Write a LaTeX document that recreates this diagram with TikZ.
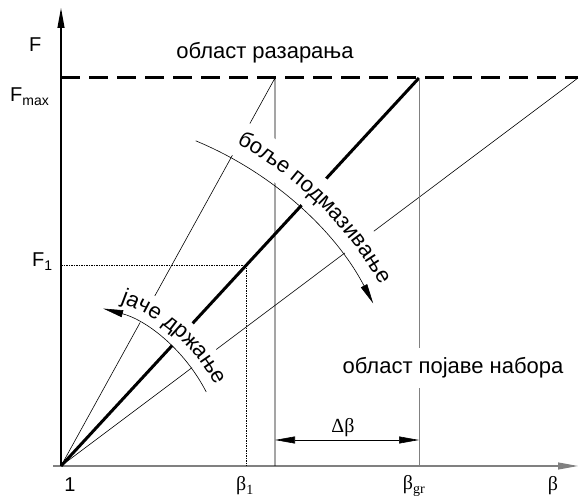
\documentclass[tikz,border=0pt]{standalone}
\usepackage{fontspec}
\setmainfont{Liberation Sans}
\newfontfamily\grfont{Liberation Serif}
\usetikzlibrary{arrows.meta, calc, decorations.text}
\definecolor{cAxis}{RGB}{128,128,128}
\newcommand\txtsize{\fontsize{22}{26}\selectfont}
\tikzset{
	axis/.style     ={-{Triangle[length=20pt, width=7pt]}, line width=1.1pt},
	ray/.style      ={line width=0.6pt},
	mainray/.style  ={line width=3pt},
	limit/.style    ={line width=3pt, dash pattern=on 19pt off 9pt},
	guide/.style    ={line width=0.6pt, dash pattern=on 1.5pt off 1pt},
	dimarrow/.style ={{Triangle[length=20pt, width=7pt]}-{Triangle[length=20pt, width=7pt]}, line width=0.6pt},
	turn/.style     ={-{Triangle[length=20pt, width=7pt]}, line width=0.6pt},
	mask/.style     ={white, line width=#1},
	labF/.style     ={font=\fontsize{20}{24}\selectfont, inner sep=0pt},
	lbl/.style      ={font=\txtsize, inner sep=1pt},
	grlbl/.style    ={font=\grfont\fontsize{20}{24}\selectfont, inner sep=1pt},
	bent/.style     ={decorate, decoration={text along path, text align=center, text={|\txtsize|#1}}},
}

\begin{document}
\begin{tikzpicture}[x=1pt, y=1pt]
	\useasboundingbox (0,0) rectangle (579,498);
	% main points
	\coordinate (O) at (61,32);
	\coordinate (ytop) at (61,490);
	\coordinate (xleft) at (53,32);
	\coordinate (xright) at (578,32);
	\coordinate (Fl) at (61,420);
	\coordinate (Fr) at (578,420);
	\coordinate (A) at (275,420);
	\coordinate (B) at (419,420);
	\coordinate (P1) at ($(O)!0.517!(B)$);
	% axes and limit
	\draw[axis, cAxis] (xleft) -- (xright);
	\draw[axis] (O) -- (ytop);
	\draw[limit] (Fl) -- (Fr);
	% rays
	\draw[ray] (O) -- (A) -- (A |- O);
	\draw[ray] (O) -- (Fr);
	\draw[mainray] (O) -- (B);
	\draw[ray, cAxis] (B) -- (B |- O);
	\draw[guide] (O |- P1) -- (P1) -- (P1 |- O);
	% delta beta
	\coordinate (D1) at ($(A |- O)+(0,26)$);
	\coordinate (D2) at ($(B |- O)+(0,26)$);
	\draw[dimarrow] (D1) -- (D2) node[midway, above=2pt, xshift=-4pt, grlbl] (dbeta) {Δβ};
	% gaps behind the curved texts
	\draw[mask=30pt] (O) ++(72:179) arc[start angle=72, end angle=26, radius=179];
	\draw[mask=36pt] (O) ++(62:373) arc[start angle=62, end angle=29.5, radius=373];
	% turning arrows
	\draw[turn] (O) ++(27:163) arc[start angle=27, end angle=75, radius=163];
	\draw[turn] (O) ++(67.5:352) arc[start angle=67.5, end angle=27.5, radius=352];
	% curved texts
	\path[bent={јаче држање}] (O) ++(75:174) arc[start angle=75, end angle=22.6, radius=174];
	\path[bent={боље подмазивање}] (O) ++(69:367) arc[start angle=69, end angle=22, radius=367];
	% labels
	\node[labF, anchor=base west] (lF) at (29,446) {F};
	\node[labF, anchor=base west] (lFmax) at (10,396) {F\textsubscript{max}};
	\node[labF, anchor=base west] (lF1) at (32,231) {F\textsubscript{1}};
	\node[labF] (lone) at (70,13) {1};
	\node[grlbl] (lb1) at (245,12) {β\textsubscript{1}};
	\node[grlbl] (lbgr) at (414,12) {β\textsubscript{gr}};
	\node[grlbl] (lb) at (553,12) {β};
	\node[lbl] (tRupt) at (265,445) {област разарања};
	\node[lbl, fill=white, inner ysep=10pt] (tWrink) at (453,130) {област појаве набора};
\end{tikzpicture}
\end{document}
